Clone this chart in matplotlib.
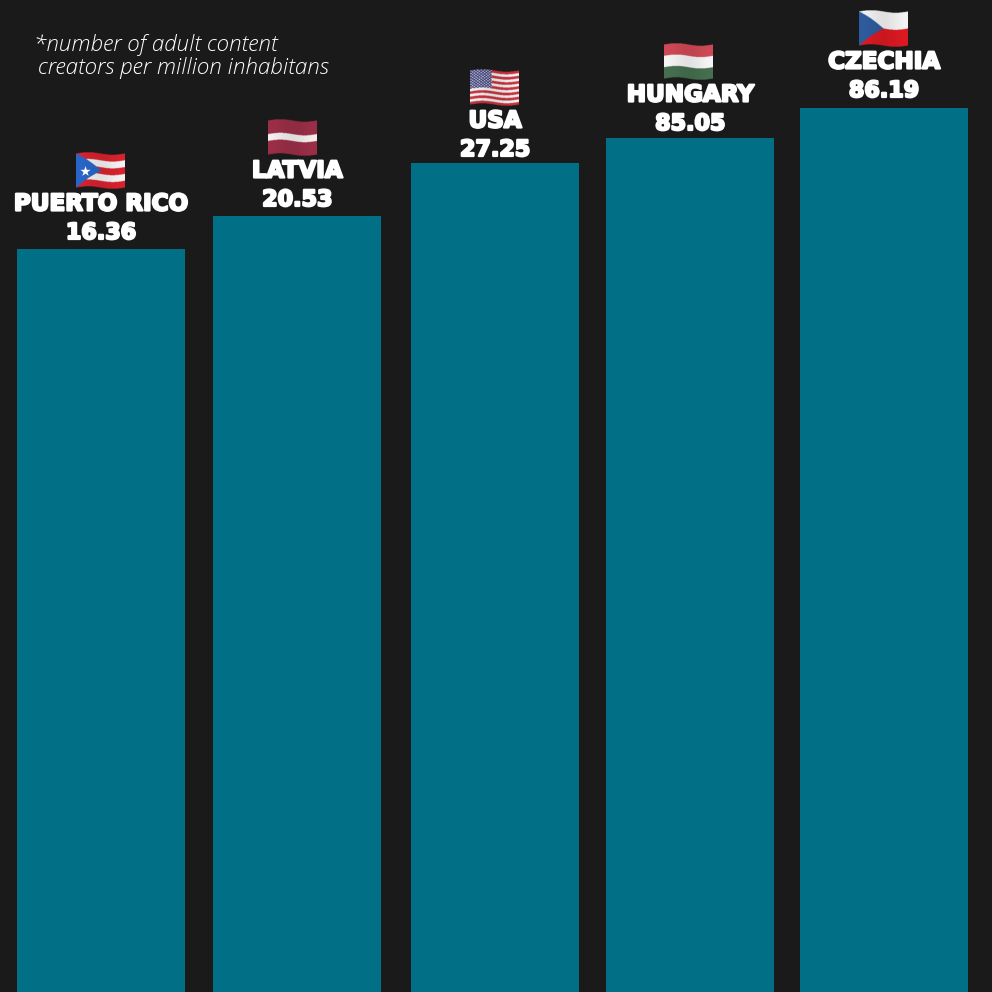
import numpy as np
import matplotlib
matplotlib.use('Agg')
import matplotlib.pyplot as plt
import matplotlib.patheffects as pe

countries = ['PUERTO RICO', 'LATVIA', 'USA', 'HUNGARY', 'CZECHIA']
rates = ['16.36', '20.53', '27.25', '85.05', '86.19']
# the bars in the picture are not to scale with the printed rates, so read separately
bar_heights = [743, 776, 829, 854, 884]

note_lines = ['*number of adult content', 'creators per million inhabitans']

BG = '#1a1a1a'
BAR = '#017086'
PITCH = 195.75  # pixels between bar centres
bar_nudge = [0, 0.5, 2.5, 2, 0]  # the bars are not quite evenly spaced
label_nudge = [0, 0, -3, -2, 1]
flag_shift = [-1, -5, 0, -2, 0]


def stripes(v, bands):
    # bands is a list of (end of band, colour)
    out = np.zeros(v.shape + (3,))
    start = -1.0
    for end, colour in bands:
        out[(v >= start) & (v < end)] = matplotlib.colors.to_rgb(colour)
        start = end
    out[v >= start] = matplotlib.colors.to_rgb(bands[-1][1])
    return out


def make_flag(name):
    h, w = 108, 147
    u, v = np.meshgrid(np.linspace(0, 1, w), np.linspace(0, 1, h))
    amp = 0.035
    fv = (v - 0.5 + amp * np.sin(2 * np.pi * u)) / (1 - 2 * amp) + 0.5
    tri = 1 - np.abs(2 * fv - 1)

    if name == 'PUERTO RICO':
        rgb = stripes(fv, [(i / 5, '#d9232e' if i % 2 else '#f4f4f4') for i in range(1, 6)])
        rgb[u < 0.52 * tri] = matplotlib.colors.to_rgb('#2a66c8')
    elif name == 'LATVIA':
        rgb = stripes(fv, [(0.4, '#9c2f48'), (0.6, '#f3f0f0'), (1, '#9c2f48')])
    elif name == 'USA':
        rgb = stripes(fv, [(i / 13, '#f2f2f2' if i % 2 == 0 else '#c8343f') for i in range(1, 14)])
        canton = (u < 0.44) & (fv < 0.54)
        rgb[canton] = matplotlib.colors.to_rgb('#3d3f78')
        dots = canton & (np.sin(u * 90) * np.sin(fv * 80) > 0.25)
        rgb[dots] = matplotlib.colors.to_rgb('#e8e8f0')
    elif name == 'HUNGARY':
        rgb = stripes(fv, [(1 / 3, '#cf4a56'), (2 / 3, '#f6f6f6'), (1, '#467050')])
    else:
        rgb = stripes(fv, [(0.5, '#f4f4f4'), (1, '#dc1a22')])
        rgb[u < 0.5 * tri] = matplotlib.colors.to_rgb('#2f5c9e')

    # soft shading along the wave
    rgb = np.clip(rgb * (0.96 + 0.04 * np.cos(2 * np.pi * u)[..., None]), 0, 1)
    alpha = ((fv >= 0) & (fv <= 1)).astype(float)
    return np.dstack([rgb, alpha])


fig = plt.figure(figsize=(9.92, 9.92), dpi=100, facecolor=BG)
ax = fig.add_axes([0, 0, 1, 1], facecolor=BG)
xlim = (-101 / PITCH, (992 - 101) / PITCH)
ylim = (0, 992)

x = np.arange(len(countries)) + np.array(bar_nudge) / PITCH
ax.bar(x, bar_heights, width=168 / PITCH, color=BAR, linewidth=0)

thick = [pe.withStroke(linewidth=1.6, foreground='white')]
for i, name in enumerate(countries):
    top = bar_heights[i] + label_nudge[i]
    ax.text(x[i], top + 16, rates[i], color='white', fontsize=16, fontweight='bold',
            family='DejaVu Sans', ha='center', va='center', path_effects=thick)
    ax.text(x[i], top + 45, name, color='white', fontsize=16.6, fontweight='bold',
            family='DejaVu Sans', ha='center', va='center', path_effects=thick)
    cx = x[i] + flag_shift[i] / PITCH
    fw = 49 / PITCH
    ax.imshow(make_flag(name), extent=(cx - fw / 2, cx + fw / 2, top + 60, top + 97),
              aspect='auto', interpolation='bilinear', zorder=3)
    if name == 'PUERTO RICO':
        ax.scatter([cx - fw * 0.31], [top + 78], marker='*', s=60, color='white',
                   linewidth=0, zorder=4)

ax.text(xlim[0] + 34 / PITCH, 992 - 45, note_lines[0], color='white', fontsize=16.1,
        style='italic', fontweight='light', family='Open Sans', va='center', ha='left')
ax.text(xlim[0] + 38 / PITCH, 992 - 68, note_lines[1], color='white', fontsize=16.1,
        style='italic', fontweight='light', family='Open Sans', va='center', ha='left')

ax.set_xlim(xlim)
ax.set_ylim(ylim)
ax.axis('off')
fig.savefig('out.png', dpi=100, facecolor=BG)
